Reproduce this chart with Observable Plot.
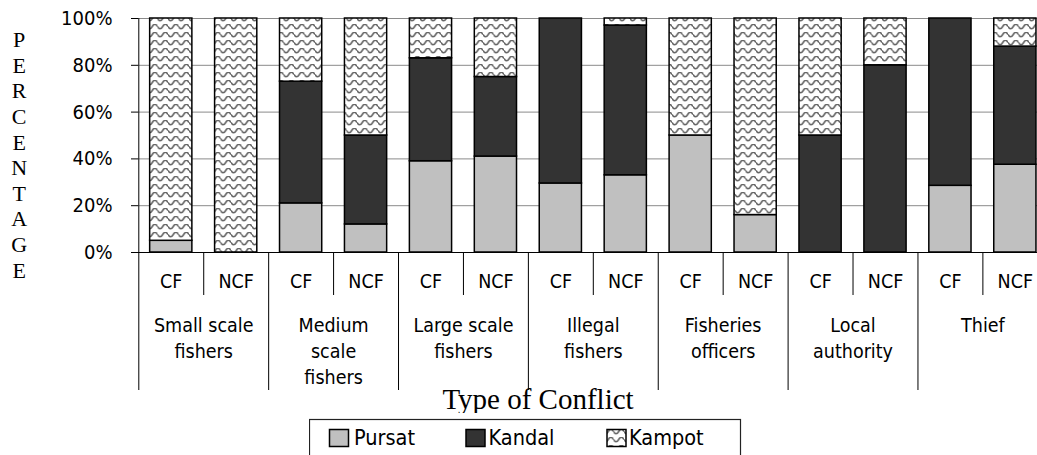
<!DOCTYPE html>
<html>
<head>
<meta charset="utf-8">
<script src="https://cdn.jsdelivr.net/npm/d3@7"></script>
<script src="https://cdn.jsdelivr.net/npm/@observablehq/plot@0.6"></script>
<style>
  html, body { margin: 0; padding: 0; background: #fff; overflow: hidden; }
  #wrap { position: relative; width: 1037px; height: 455px; overflow: hidden; background: #fff; }
  #wrap svg.plot-main { position: absolute; left: 0; top: 0; }
  #legend { position: absolute; left: 309px; top: 413px; }
</style>
</head>
<body>
<svg width="0" height="0" style="position:absolute">
  <defs>
    <pattern id="wave" patternUnits="userSpaceOnUse" width="10.5" height="8">
      <rect width="10.5" height="8" fill="#fff"/>
      <path d="M0,2.5 Q2.625,7 5.25,2.5 Q7.875,-2 10.5,2.5" fill="none" stroke="#666" stroke-width="1.6"/>
    </pattern>
  </defs>
</svg>
<div id="wrap"></div>
<script>
// ---- data ----
const groups = ["Small scale fishers", "Medium scale fishers", "Large scale fishers", "Illegal fishers", "Fisheries officers", "Local authority", "Thief"];
const groupLabels = ["Small scale\nfishers", "Medium\nscale\nfishers", "Large scale\nfishers", "Illegal\nfishers", "Fisheries\nofficers", "Local\nauthority", "Thief"];
const types = ["CF", "NCF"];
const regions = ["Pursat", "Kandal", "Kampot"];
// percentages, one per (group, type) in order
const pursat = [5, 0, 21, 12, 39, 41, 29.5, 33, 50, 16, 0, 0, 28.5, 37.5];
const kandal = [0, 0, 52, 38, 44, 34, 70.5, 64, 0, 0, 50, 80, 71.5, 50.5];
const kampot = [95, 100, 27, 50, 17, 25, 0, 3, 50, 84, 50, 20, 0, 12];
const yTicks = [0, 20, 40, 60, 80, 100];
const yTitle = "PERCENTAGE";
const xTitle = "Type of Conflict";
const regionColors = ["#c0c0c0", "#333333", "url(#wave)"];

// ---- derived table ----
const keys = groups.flatMap(g => types.map(t => g + "|" + t));
const series = {Pursat: pursat, Kandal: kandal, Kampot: kampot};
const rows = [];
keys.forEach((k, i) => regions.forEach(r => {
  const v = series[r][i];
  if (v > 0) rows.push({key: k, region: r, value: v});
}));
const cfKeys = keys.filter(k => k.endsWith("|CF"));
const ncfKeys = keys.filter(k => k.endsWith("|NCF"));
const groupRows = groups.map((g, i) => ({key: g + "|CF", label: groupLabels[i]}));

// ---- layout ----
const X0 = 138.3, STEP = 64.93;
const X1 = X0 + STEP * keys.length;
const step = (X1 - X0) / keys.length;
const sans = "'DejaVu Sans Condensed', 'Liberation Sans', Arial, sans-serif";
const serif = "'Liberation Serif', 'Times New Roman', serif";

const plot = Plot.plot({
  width: 1037,
  height: 455,
  marginLeft: 138,
  marginRight: 0,
  marginTop: 18,
  marginBottom: 203,
  style: {fontFamily: sans, fontSize: "19.5px", color: "#000", background: "transparent"},
  x: {type: "band", domain: keys, range: [X0, X1], paddingInner: 0.35, paddingOuter: 0.175, align: 0.5, round: false},
  y: {domain: [0, 100]},
  color: {domain: regions, range: regionColors},
  marks: [
    Plot.gridY(yTicks, {stroke: "#8a8a8a", strokeOpacity: 1, strokeWidth: 1}),
    Plot.barY(rows, {x: "key", y: "value", fill: "region", stroke: "#000", strokeWidth: 1.5, order: regions}),
    Plot.ruleY([0], {stroke: "#000"}),
    Plot.ruleX([keys[0]], {x: d => d, y1: 0, y2: 100, dx: -step / 2, stroke: "#000"}),
    Plot.axisY(yTicks, {tickSize: 7, tickPadding: 19, tickFormat: d => d + "%", fontSize: 20, label: null, stroke: "#000"}),
    Plot.axisX(ncfKeys, {tickSize: 43, dx: -step / 2, tickFormat: () => "", label: null, stroke: "#000"}),
    Plot.axisX(cfKeys, {tickSize: 138, dx: -step / 2, tickFormat: () => "", label: null, stroke: "#000"}),
    Plot.text(keys, {x: d => d, text: d => d.split("|")[1], frameAnchor: "bottom", lineAnchor: "top", dy: 22, fontSize: 19.5}),
    Plot.text(groupRows, {x: "key", text: "label", frameAnchor: "bottom", lineAnchor: "top", dx: step / 2, dy: 61.3, lineHeight: 1.33, fontSize: 19.5}),
    Plot.text([yTitle], {text: d => d.split("").join("\n"), frameAnchor: "left", textAnchor: "middle", lineAnchor: "middle", dx: -119.3, dy: 18.7, lineHeight: 1.164, fontFamily: serif, fontSize: 22}),
    Plot.text([xTitle], {text: d => d, frameAnchor: "bottom", lineAnchor: "top", dx: -50, dy: 136.4, fontFamily: serif, fontSize: 29})
  ]
});
plot.classList.add("plot-main");
const wrap = document.getElementById("wrap");
wrap.appendChild(plot);

// ---- legend ----
const legendItems = [
  {name: regions[0], fill: regionColors[0], sx: 20.5, tx: 45},
  {name: regions[1], fill: regionColors[1], sx: 157, tx: 179.5},
  {name: regions[2], fill: regionColors[2], sx: 298, tx: 320}
];
const lg = d3.select(wrap).append("svg").attr("id", "legend").attr("width", 433).attr("height", 42);
lg.append("rect").attr("x", 0).attr("y", 0).attr("width", 433).attr("height", 42).attr("fill", "#fff");
lg.append("rect").attr("x", 0.5).attr("y", 6.5).attr("width", 431).attr("height", 60).attr("fill", "#fff").attr("stroke", "#222").attr("stroke-width", 1.2);
const it = lg.selectAll("g.item").data(legendItems).join("g").attr("class", "item");
it.append("rect").attr("x", d => d.sx).attr("y", 16.5).attr("width", 19).attr("height", 17)
  .attr("fill", d => d.fill).attr("stroke", "#000").attr("stroke-width", 1.5);
it.append("text").attr("x", d => d.tx).attr("y", 32).text(d => d.name)
  .attr("font-family", sans).attr("font-size", 21.5).attr("fill", "#000");
</script>
</body>
</html>
